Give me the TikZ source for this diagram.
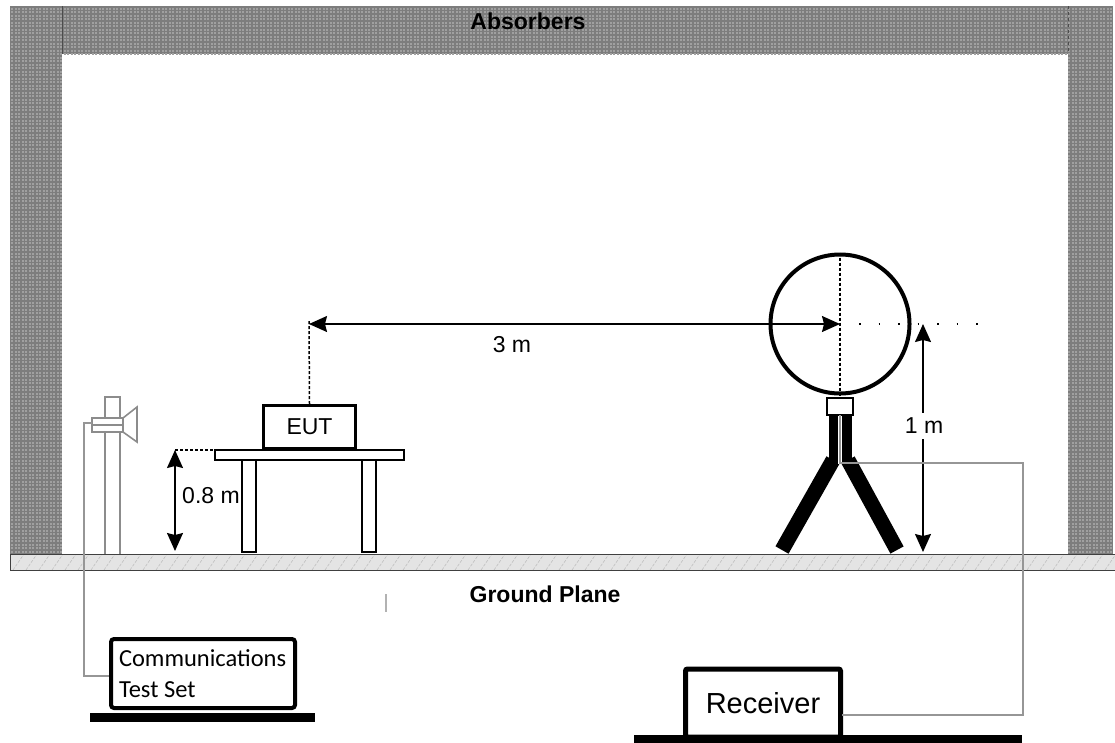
\documentclass[tikz,border=0pt]{standalone}
\usepackage{fontspec}
\setmainfont{Liberation Sans}
\newfontfamily\calib{Carlito}
\usetikzlibrary{arrows.meta,patterns}
\pgfdeclarepatternformonly{absdots}{\pgfqpoint{-0.1pt}{-0.1pt}}{\pgfqpoint{3.6pt}{3.6pt}}{\pgfqpoint{3.5pt}{3.5pt}}{\pgfpathrectangle{\pgfqpoint{0.5pt}{0.5pt}}{\pgfqpoint{2pt}{2pt}}\pgfusepath{fill}}
\definecolor{absgray}{RGB}{125,125,125}
\definecolor{absdot}{RGB}{160,160,160}
\definecolor{gpfill}{RGB}{228,228,228}
\definecolor{cablegray}{RGB}{150,150,150}
\definecolor{mastgray}{RGB}{140,140,140}
\begin{document}
\begin{tikzpicture}[x=1pt,y=-1pt,
  absorber/.style={fill=absgray, postaction={pattern=absdots, pattern color=absdot}},
  lbl/.style={font=\fontsize{23}{27}\selectfont, inner sep=0pt},
  blbl/.style={font=\fontsize{23}{27}\selectfont\bfseries, inner sep=0pt},
  dim/.style={line width=1.5pt, {Stealth[length=18pt,width=16pt,inset=2pt]}-{Stealth[length=18pt,width=16pt,inset=2pt]}},
  guide/.style={line width=1.5pt, dash pattern=on 3pt off 2pt},
  cable/.style={draw=cablegray, line width=2.2pt},
  mastline/.style={draw=mastgray, line width=1.6pt},
  box/.style={draw, line width=3pt, fill=white},
  leg/.style={line width=15pt}
]
\useasboundingbox (0,0) rectangle (1115,742);

% absorbers
\fill[absorber] (10,6) rectangle (62,554);
\fill[absorber] (62,6) rectangle (1068,54);
\fill[absorber] (1068,6) rectangle (1113,554);
\draw[line width=0.8pt, black!70] (62,6) -- (62,54);
\draw[line width=0.8pt, black!70, dashed] (1068,6) -- (1068,54);
\node[blbl] (absorb) at (528,21) {Absorbers};

% ground plane
\fill[gpfill] (10,554) rectangle (1115,570);
\begin{scope}
  \clip (10,554) rectangle (1115,570);
  \foreach \x in {0,13,...,1130}
    \draw[white!50!gray, line width=0.6pt, dash pattern=on 3pt off 1.5pt] (\x,570) -- (\x+11,554);
\end{scope}
\draw[line width=1pt, black!75] (10,554) -- (1115,554) (10,570) -- (1115,570) (10,554) -- (10,570);
\node[blbl] (gp) at (545,594) {Ground Plane};
\draw[gray!60, line width=1.2pt] (386,594) -- (386,612);

% communications antenna mast
\draw[mastline] (105,554) -- (105,397) -- (120,397) -- (120,554);
\draw[mastline, fill=white] (92,418) rectangle (123,432);
\draw[mastline] (92,425) -- (123,425);
\draw[mastline, fill=white] (123,418) -- (137,407) -- (137,442) -- (123,432) -- cycle;
\coordinate (clampw) at (92,423);
\coordinate (ctsin) at (109,676);

% table and EUT
\draw[line width=1.5pt, fill=white] (215,450) rectangle (404,460);
\draw[line width=1.5pt, fill=white] (242,460) rectangle (256,552);
\draw[line width=1.5pt, fill=white] (362,460) rectangle (376,552);
\node[box, lbl, minimum width=92pt, minimum height=43pt] (eut) at (309.5,427) {EUT};
\coordinate (eutref) at (309,324);
\draw[guide] (eut.north) -- (309,321);

% 0.8 m
\coordinate (tabtop) at (175,450);
\coordinate (tabbot) at (175,551);
\draw[guide] (tabtop) -- (215,450);
\draw[dim] (tabtop) -- (tabbot);
\node[lbl] (d08) at (211,496) {0.8 m};

% loop antenna
\draw[leg] (833,460) -- (782,550);
\draw[leg] (848,460) -- (897,550);
\fill (829,415) rectangle (852,464);
\fill[white] (838,415) rectangle (842,464);
\node[circle, draw, line width=4pt, minimum size=139pt, inner sep=0pt] (loop) at (840,324) {};
\draw[line width=1.5pt, fill=white] (827,398) rectangle (853,415);
\draw[guide] (loop.north) -- (loop.south);
\draw[line width=1.8pt, dash pattern=on 1.8pt off 17.7pt] (859,324) -- (985,324);

% 3 m
\draw[dim] (eutref) -- (loop.center);
\node[lbl] (d3) at (512,345) {3 m};

% 1 m
\coordinate (h1top) at (923,324);
\coordinate (h1bot) at (923,552);
\draw[dim] (h1top) -- (h1bot);
\node[lbl, fill=white, inner xsep=1pt, inner ysep=5pt] (d1) at (924,426) {1 m};

% receiver
\node[draw, line width=5pt, rounded corners=2pt, fill=white, minimum width=155pt, minimum height=68pt, inner sep=0pt, font=\fontsize{29}{33}\selectfont] (rx) at (763,703) {Receiver};
\draw[line width=8pt] (634,739) -- (1022,739);
\coordinate (rxin) at (842,715);
\coordinate (loopout) at (840,415);
\draw[cable] (loopout) |- (1023,463) |- (rxin);

% communications test set
\node[draw, line width=4pt, rounded corners=3pt, fill=white, minimum width=184pt, minimum height=69pt, text width=168pt, align=left, font=\calib\fontsize{24.5}{31}\selectfont] (cts) at (203,673.5) {\spaceskip=0.23em\relax Communications\\Test Set};
\draw[line width=9pt] (90,717.5) -- (315,717.5);
\draw[cable] (clampw) -| (84,676) -- (ctsin);
\end{tikzpicture}
\end{document}
